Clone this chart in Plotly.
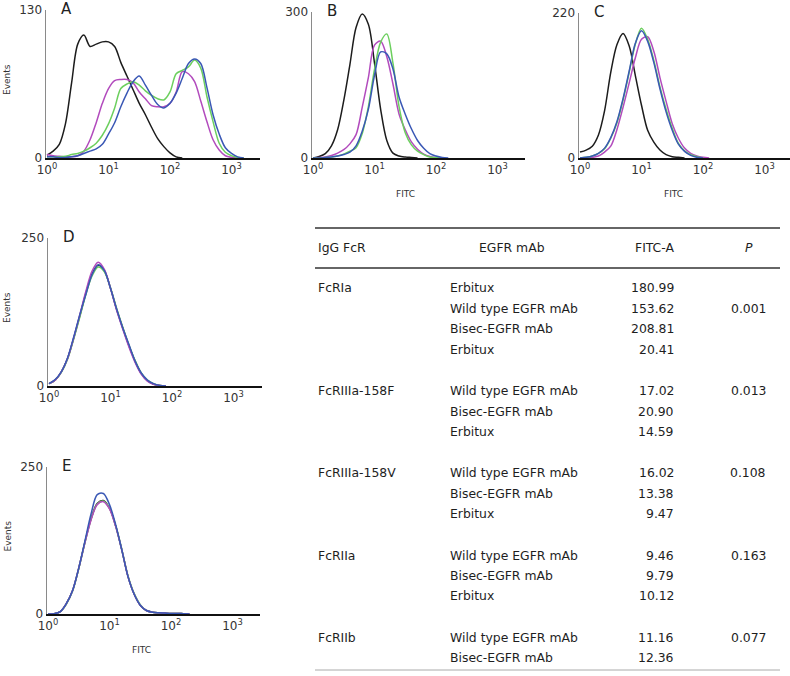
import plotly.graph_objects as go

W, H = 790, 676

# ---------------- data ----------------
# sampling grid of log10(FITC) shared by every histogram
LOG_FITC = [0.0, 0.1, 0.2, 0.3, 0.4, 0.5, 0.6, 0.7, 0.8, 0.9,
            1.0, 1.1, 1.2, 1.3, 1.4, 1.5, 1.6, 1.7, 1.8, 1.9,
            2.0, 2.1, 2.2, 2.3, 2.4, 2.5, 2.6, 2.7, 2.8, 2.9,
            3.0, 3.1, 3.2, 3.3, 3.4]

X_TICK_VALUES = [1, 10, 100, 1000]
X_TICK_LABELS = ["10<sup>0</sup>", "10<sup>1</sup>", "10<sup>2</sup>", "10<sup>3</sup>"]

# Panel A (max 130)
A_black = [2.5, 6, 12, 30, 66, 100, 108, 98, 100, 102, 102, 98, 84, 72, 60, 48, 38, 27, 17, 10, 4.5, 1, 0]
A_magenta = [3, 2, 1.5, 1, 1, 2, 6, 16, 31, 48, 61, 68, 69, 69, 66, 58, 52, 46, 45, 45, 48, 58, 76, 74, 67, 50, 32, 16, 7, 2, 0.5, 0]
A_green = [1, 1, 1, 1.5, 3, 4, 6, 9, 13, 20, 30, 44, 61, 65, 67, 64, 59, 55, 52, 51, 58, 74, 77, 80, 86, 79, 54, 32, 13, 5, 2, 0.5, 0]
A_blue = [1, 1, 0.5, 0.5, 1, 2, 4, 6, 8, 12, 21, 31, 45, 57, 67, 72, 64, 55, 47, 44, 48, 57, 70, 83, 87, 83, 62, 38, 21, 9, 4, 1, 0]

# Panel B (max 300)
B_black = [0, 3, 9, 25, 58, 118, 192, 268, 296, 275, 195, 100, 36, 10, 4, 2, 1, 0]
B_magenta = [0, 1, 2, 5, 10, 17, 29, 48, 104, 165, 232, 240, 208, 152, 90, 58, 33, 18, 8, 3, 1, 0]
B_green = [0, 0, 1, 2, 4, 8, 14, 21, 50, 105, 182, 238, 255, 195, 105, 52, 27, 14, 7, 2, 1, 0]
B_blue = [0, 0, 1, 2, 4, 7, 12, 25, 55, 100, 170, 218, 214, 183, 125, 90, 60, 36, 20, 9, 4, 1, 0]

# Panel C (max 220)
C_black = [9, 12, 18, 35, 72, 130, 172, 189, 170, 125, 80, 42, 24, 12, 5, 2, 1, 0]
C_magenta = [0, 0, 1, 3, 9, 18, 43, 77, 114, 152, 180, 184, 162, 122, 86, 52, 30, 15, 7, 3, 1, 0]
C_green = [0, 1, 3, 7, 14, 30, 53, 88, 130, 173, 197, 180, 148, 108, 74, 45, 22, 11, 5, 2, 0]
C_blue = [0, 1, 3, 7, 15, 31, 55, 90, 132, 174, 193, 177, 145, 105, 70, 42, 21, 10, 4, 1, 0]

# Panel D (max 250)
D_black = [4, 10, 24, 46, 80, 118, 157, 189, 204, 195, 165, 129, 98, 68, 42, 21, 9, 3, 1, 0]
D_green = [4, 10, 23, 45, 79, 116, 155, 186, 201, 193, 166, 131, 99, 69, 43, 22, 10, 4, 1, 0]
D_magenta = [4, 10, 24, 46, 81, 120, 160, 194, 209, 197, 165, 128, 96, 66, 40, 20, 8, 3, 1, 0]
D_blue = [4, 11, 24, 47, 82, 120, 155, 188, 205, 195, 165, 130, 98, 70, 42, 22, 10, 4, 1, 0]

# Panel E (max 250)
E_black = [0, 0.5, 4, 18, 40, 78, 122, 162, 188, 193, 180, 150, 109, 64, 34, 15, 6, 3, 2, 1.5, 1, 1, 0.5, 0]
E_green = [0, 0.5, 4, 17, 39, 77, 121, 161, 187, 192, 180, 150, 110, 65, 35, 16, 6, 3, 2, 1.5, 1, 1, 0.5, 0]
E_magenta = [0, 0.5, 4, 18, 40, 78, 121, 160, 186, 191, 179, 149, 109, 64, 34, 15, 6, 3, 2, 1.5, 1, 1, 0.5, 0]
E_blue = [0, 0.5, 4, 18, 40, 78, 124, 170, 203, 205, 186, 152, 109, 64, 34, 15, 6, 3, 2, 1.5, 1, 1, 0.5, 0]

Y_MAX = {"A": 130, "B": 300, "C": 220, "D": 250, "E": 250}

# Table
TABLE_HEADERS = ["IgG FcR", "EGFR mAb", "FITC-A", "<i>P</i>"]
TABLE_RECEPTOR = ["FcRIa", "", "", "", "FcRIIIa-158F", "", "", "FcRIIIa-158V", "", "",
                  "FcRIIa", "", "", "FcRIIb", ""]
TABLE_MAB = ["Erbitux", "Wild type EGFR mAb", "Bisec-EGFR mAb", "Erbitux",
             "Wild type EGFR mAb", "Bisec-EGFR mAb", "Erbitux",
             "Wild type EGFR mAb", "Bisec-EGFR mAb", "Erbitux",
             "Wild type EGFR mAb", "Bisec-EGFR mAb", "Erbitux",
             "Wild type EGFR mAb", "Bisec-EGFR mAb"]
TABLE_FITC = ["180.99", "153.62", "208.81", "20.41", "17.02", "20.90", "14.59",
              "16.02", "13.38", "9.47", "9.46", "9.79", "10.12", "11.16", "12.36"]
TABLE_P = ["", "0.001", "", "", "0.013", "", "", "0.108", "", "", "0.163", "", "", "0.077", ""]
TABLE_BLOCK = [0, 0, 0, 0, 1, 1, 1, 2, 2, 2, 3, 3, 3, 4, 4]

# ---------------- styling / layout ----------------
COLORS = {"black": "#1c1c1c", "magenta": "#b24bbd", "green": "#6ccf5e", "blue": "#3a58b5"}
FONT = "DejaVu Sans"
DECADE_PX = 61.5

panels = [
    dict(key="A", ax=46, end=260, top=10, bottom=158, events=True, fitc=False,
         series=[("black", A_black), ("magenta", A_magenta), ("green", A_green), ("blue", A_blue)]),
    dict(key="B", ax=312, end=525, top=12, bottom=158, events=False, fitc=True,
         series=[("black", B_black), ("magenta", B_magenta), ("green", B_green), ("blue", B_blue)]),
    dict(key="C", ax=579, end=790, top=13, bottom=158, events=False, fitc=True,
         series=[("black", C_black), ("magenta", C_magenta), ("green", C_green), ("blue", C_blue)]),
    dict(key="D", ax=48, end=262, top=238, bottom=386, events=True, fitc=False,
         series=[("black", D_black), ("green", D_green), ("magenta", D_magenta), ("blue", D_blue)]),
    dict(key="E", ax=47, end=260, top=467, bottom=614, events=True, fitc=True,
         series=[("black", E_black), ("green", E_green), ("magenta", E_magenta), ("blue", E_blue)]),
]


def px(x):
    return x / W


def py(y):
    return 1 - y / H


fig = go.Figure()
layout = {}
annotations = []
shapes = []

for i, p in enumerate(panels):
    n = "" if i == 0 else str(i + 1)
    for cname, vals in p["series"]:
        xs = [10 ** e for e in LOG_FITC[:len(vals)]]
        fig.add_trace(go.Scatter(
            x=xs, y=vals, mode="lines",
            line=dict(color=COLORS[cname], width=1.5, shape="spline", smoothing=0.9),
            xaxis="x" + n, yaxis="y" + n, showlegend=False, hoverinfo="skip"))
    r0 = -1 / DECADE_PX
    r1 = (p["end"] - p["ax"] - 1) / DECADE_PX
    ymax = Y_MAX[p["key"]]
    layout["xaxis" + n] = dict(
        type="log", range=[r0, r1], domain=[px(p["ax"]), px(p["end"])],
        anchor="y" + n, showline=True, linecolor="#111", linewidth=2,
        showgrid=False, zeroline=False, ticks="", automargin=False,
        tickvals=X_TICK_VALUES, ticktext=X_TICK_LABELS,
        tickfont=dict(family=FONT, size=12, color="#333"), fixedrange=True)
    layout["yaxis" + n] = dict(
        range=[0, ymax], domain=[py(p["bottom"]), py(p["top"])],
        anchor="x" + n, showline=True, linecolor="#8a8a8a", linewidth=1.5,
        showgrid=False, zeroline=False, ticks="", automargin=False,
        tickvals=[0, ymax], ticktext=["0", str(ymax)],
        tickfont=dict(family=FONT, size=12, color="#333"), fixedrange=True)
    # panel letter
    annotations.append(dict(text=p["key"], x=px(p["ax"] + 13), y=py(p["top"] - 1),
                            xref="paper", yref="paper", xanchor="left", yanchor="middle",
                            showarrow=False, font=dict(family=FONT, size=15, color="#222")))
    if p["events"]:
        annotations.append(dict(text="Events", x=px(7), y=py((p["top"] + p["bottom"]) / 2 - 4),
                                xref="paper", yref="paper", xanchor="center", yanchor="middle",
                                textangle=-90, showarrow=False,
                                font=dict(family=FONT, size=9, color="#333")))
    if p["fitc"]:
        annotations.append(dict(text="FITC", x=px(p["ax"] + 94), y=py(p["bottom"] + 36),
                                xref="paper", yref="paper", xanchor="center", yanchor="middle",
                                showarrow=False, font=dict(family=FONT, size=9, color="#333")))

# ---------------- table ----------------
TX0, TX1 = 315, 780
for yline, col, w in [(228, "#333", 1.5), (268, "#333", 1.5), (670, "#aaa", 1)]:
    shapes.append(dict(type="line", xref="paper", yref="paper",
                       x0=px(TX0), x1=px(TX1), y0=py(yline), y1=py(yline),
                       line=dict(color=col, width=w)))

tfont = dict(family=FONT, size=12.4, color="#1e1e1e")
header_pos = [(316, "left"), (512, "center"), (654, "center"), (749, "center")]
for text, (hx, anc) in zip(TABLE_HEADERS, header_pos):
    annotations.append(dict(text=text, x=px(hx), y=py(247), xref="paper", yref="paper",
                            xanchor=anc, yanchor="middle", showarrow=False, font=tfont))

for r in range(len(TABLE_MAB)):
    yy = 288 + 20.4 * r + 21 * TABLE_BLOCK[r]
    cells = [(TABLE_RECEPTOR[r], 316, "left"), (TABLE_MAB[r], 448, "left"),
             (TABLE_FITC[r], 676, "right"), (TABLE_P[r], 748, "center")]
    for text, cx, anc in cells:
        if text:
            annotations.append(dict(text=text, x=px(cx), y=py(yy), xref="paper", yref="paper",
                                    xanchor=anc, yanchor="middle", showarrow=False, font=tfont))

fig.update_layout(
    width=W, height=H, margin=dict(l=0, r=0, t=0, b=0, autoexpand=False),
    paper_bgcolor="white", plot_bgcolor="white",
    annotations=annotations, shapes=shapes, showlegend=False, **layout)

# remove the browser's default 8px page margin so figure pixels match the page
fig.write_html("out.html",
               config={"displayModeBar": False, "staticPlot": True},
               post_script="document.body.style.margin='0';document.body.style.overflow='hidden';")
